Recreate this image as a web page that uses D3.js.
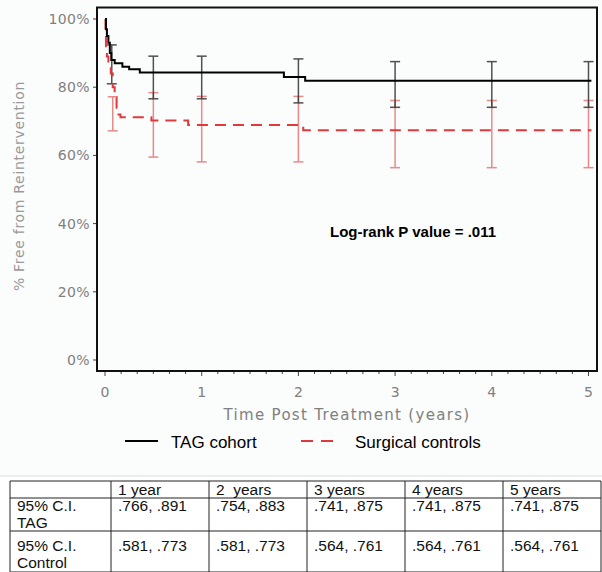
<!DOCTYPE html>
<html>
<head>
<meta charset="utf-8">
<script src="https://cdn.jsdelivr.net/npm/d3@7"></script>
<style>
  body { margin: 0; background: #fff; }
  svg { display: block; }
</style>
</head>
<body>
<div id="chart"></div>
<script>
// Kaplan-Meier curves (time in years, % free from reintervention)
var tagTime = [0, 0.01, 0.02, 0.035, 0.05, 0.065, 0.1, 0.18, 0.25, 0.36, 1.85, 2.07, 5.03];
var tagSurv = [100, 97, 95, 93, 90, 88, 87, 86, 85.3, 84.3, 83.0, 81.9, 81.9];

var ctrlTime = [0, 0.005, 0.01, 0.02, 0.035, 0.06, 0.08, 0.1, 0.12, 0.14, 0.16, 0.48, 0.86, 2.05, 5.03];
var ctrlSurv = [100, 96, 92, 89, 86, 84, 80, 77, 74, 72, 71.2, 70.2, 68.9, 67.4, 67.4];

// 95% confidence interval bars
var tagCiTime = [0.07, 0.5, 1, 2, 3, 4, 5];
var tagCiLow = [81, 76.6, 76.6, 75.4, 74.1, 74.1, 74.1];
var tagCiHigh = [92.4, 89.1, 89.1, 88.3, 87.5, 87.5, 87.5];

var ctrlCiTime = [0.08, 0.5, 1, 2, 3, 4, 5];
var ctrlCiLow = [67.2, 59.5, 58.1, 58.1, 56.4, 56.4, 56.4];
var ctrlCiHigh = [77.2, 78.4, 77.3, 77.3, 76.1, 76.1, 76.1];

var xTicks = [0, 1, 2, 3, 4, 5];
var yTicks = [0, 20, 40, 60, 80, 100];

// table below the chart
var tableHeader = ["", "1 year", "2  years", "3 years", "4 years", "5 years"];
var tableRowLabels = [["95% C.I.", "TAG"], ["95% C.I.", "Control"]];
var tableTag = [".766, .891", ".754, .883", ".741, .875", ".741, .875", ".741, .875"];
var tableCtrl = [".581, .773", ".581, .773", ".564, .761", ".564, .761", ".564, .761"];

var width = 602, height = 572;
var svg = d3.select("#chart").append("svg")
    .attr("width", width)
    .attr("height", height);

svg.append("rect").attr("x", 0).attr("y", 0).attr("width", width).attr("height", 476)
    .attr("fill", "#fbfcfc");

var x = d3.scaleLinear().domain([0, 5]).range([105, 588.5]);
var y = d3.scaleLinear().domain([0, 100]).range([360, 19]);

var frame = {left: 97, top: 7.5, right: 597, bottom: 371};
var grey = "#808080";
var sans = "Liberation Sans, Arial, sans-serif";

// x axis ticks + labels
var minor = d3.range(0, 31).map(function(i) { return i / 6; });
svg.selectAll(".xminor").data(minor).enter().append("line")
    .attr("x1", function(d) { return x(d); })
    .attr("x2", function(d) { return x(d); })
    .attr("y1", frame.bottom)
    .attr("y2", function(d, i) { return frame.bottom + (i % 6 == 0 ? 5 : 3); })
    .attr("stroke", "#444").attr("stroke-width", 1);

svg.selectAll(".xlab").data(xTicks).enter().append("text")
    .attr("x", function(d) { return x(d); })
    .attr("y", 397)
    .attr("text-anchor", "middle")
    .attr("font-family", "DejaVu Sans, sans-serif")
    .attr("font-size", 14)
    .attr("fill", grey)
    .text(function(d) { return d; });

svg.append("text")
    .attr("x", 347).attr("y", 420)
    .attr("text-anchor", "middle")
    .attr("font-family", "DejaVu Sans, sans-serif")
    .attr("font-size", 15)
    .attr("letter-spacing", 1.3)
    .attr("fill", grey)
    .text("Time Post Treatment (years)");

// y axis ticks + labels
svg.selectAll(".ytick").data(yTicks).enter().append("line")
    .attr("x1", frame.left - 4).attr("x2", frame.left)
    .attr("y1", function(d) { return y(d); })
    .attr("y2", function(d) { return y(d); })
    .attr("stroke", "#444");

svg.selectAll(".ylab").data(yTicks).enter().append("text")
    .attr("x", 90)
    .attr("y", function(d) { return y(d) + 5; })
    .attr("text-anchor", "end")
    .attr("font-family", "DejaVu Sans, sans-serif")
    .attr("font-size", 14)
    .attr("letter-spacing", 0.4)
    .attr("fill", grey)
    .text(function(d) { return d + "%"; });

svg.append("text")
    .attr("transform", "translate(24,186) rotate(-90)")
    .attr("text-anchor", "middle")
    .attr("font-family", "DejaVu Sans, sans-serif")
    .attr("font-size", 14)
    .attr("letter-spacing", 0.7)
    .attr("fill", "#999")
    .text("% Free from Reintervention");

// plot frame
svg.append("rect")
    .attr("x", frame.left).attr("y", frame.top)
    .attr("width", frame.right - frame.left)
    .attr("height", frame.bottom - frame.top)
    .attr("fill", "none")
    .attr("stroke", "#111")
    .attr("stroke-width", 2);

// error bars
function drawBars(times, low, high, color, opacity) {
    var g = svg.append("g").attr("stroke", color).attr("stroke-width", 1.5).attr("opacity", opacity);
    times.forEach(function(t, i) {
        var cx = x(t);
        g.append("line").attr("x1", cx).attr("x2", cx).attr("y1", y(high[i])).attr("y2", y(low[i]));
        g.append("line").attr("x1", cx - 5).attr("x2", cx + 5).attr("y1", y(high[i])).attr("y2", y(high[i]));
        g.append("line").attr("x1", cx - 5).attr("x2", cx + 5).attr("y1", y(low[i])).attr("y2", y(low[i]));
    });
}
drawBars(ctrlCiTime, ctrlCiLow, ctrlCiHigh, "#e05a5a", 0.7);
drawBars(tagCiTime, tagCiLow, tagCiHigh, "#333", 0.85);

// survival curves
var line = d3.line()
    .x(function(d) { return x(d[0]); })
    .y(function(d) { return y(d[1]); })
    .curve(d3.curveStepAfter);

svg.append("path")
    .datum(d3.zip(ctrlTime, ctrlSurv))
    .attr("d", line)
    .attr("fill", "none")
    .attr("stroke", "#e0393b")
    .attr("stroke-width", 2)
    .attr("stroke-dasharray", "11,7");

svg.append("path")
    .datum(d3.zip(tagTime, tagSurv))
    .attr("d", line)
    .attr("fill", "none")
    .attr("stroke", "#000")
    .attr("stroke-width", 2);

svg.append("text")
    .attr("x", 330).attr("y", 237)
    .attr("font-family", sans)
    .attr("font-size", 15)
    .attr("font-weight", "bold")
    .text("Log-rank P value = .011");

// legend
svg.append("line").attr("x1", 125).attr("x2", 158).attr("y1", 441).attr("y2", 441)
    .attr("stroke", "#000").attr("stroke-width", 2);
svg.append("text").attr("x", 171).attr("y", 448)
    .attr("font-family", sans).attr("font-size", 17)
    .text("TAG cohort");
svg.append("line").attr("x1", 301).attr("x2", 336).attr("y1", 441).attr("y2", 441)
    .attr("stroke", "#e0393b").attr("stroke-width", 2).attr("stroke-dasharray", "12,8");
svg.append("text").attr("x", 355).attr("y", 448)
    .attr("font-family", sans).attr("font-size", 17)
    .text("Surgical controls");

// table
var colX = [10, 111, 209, 307, 405, 503, 601];
var rowY = [481, 498, 531, 572];
var tg = svg.append("g");
tg.append("line").attr("x1", 0).attr("x2", width).attr("y1", 476).attr("y2", 476)
    .attr("stroke", "#ddd").attr("stroke-width", 1);
rowY.forEach(function(ry) {
    tg.append("line").attr("x1", colX[0]).attr("x2", colX[6]).attr("y1", ry).attr("y2", ry)
        .attr("stroke", "#222").attr("stroke-width", 1);
});
colX.forEach(function(cx) {
    tg.append("line").attr("x1", cx).attr("x2", cx).attr("y1", rowY[0]).attr("y2", rowY[3])
        .attr("stroke", "#222").attr("stroke-width", 1);
});

function cellText(tx, ty, s) {
    tg.append("text").attr("x", tx).attr("y", ty)
        .attr("font-family", sans).attr("font-size", 15.5)
        .attr("fill", "#111")
        .attr("xml:space", "preserve")
        .text(s);
}
tableHeader.forEach(function(h, i) { cellText(colX[i] + 7, 495, h); });
cellText(colX[0] + 7, 511, tableRowLabels[0][0]);
cellText(colX[0] + 7, 528, tableRowLabels[0][1]);
cellText(colX[0] + 7, 551, tableRowLabels[1][0]);
cellText(colX[0] + 7, 568, tableRowLabels[1][1]);
tableTag.forEach(function(v, i) { cellText(colX[i + 1] + 7, 511, v); });
tableCtrl.forEach(function(v, i) { cellText(colX[i + 1] + 7, 551, v); });
</script>
</body>
</html>
